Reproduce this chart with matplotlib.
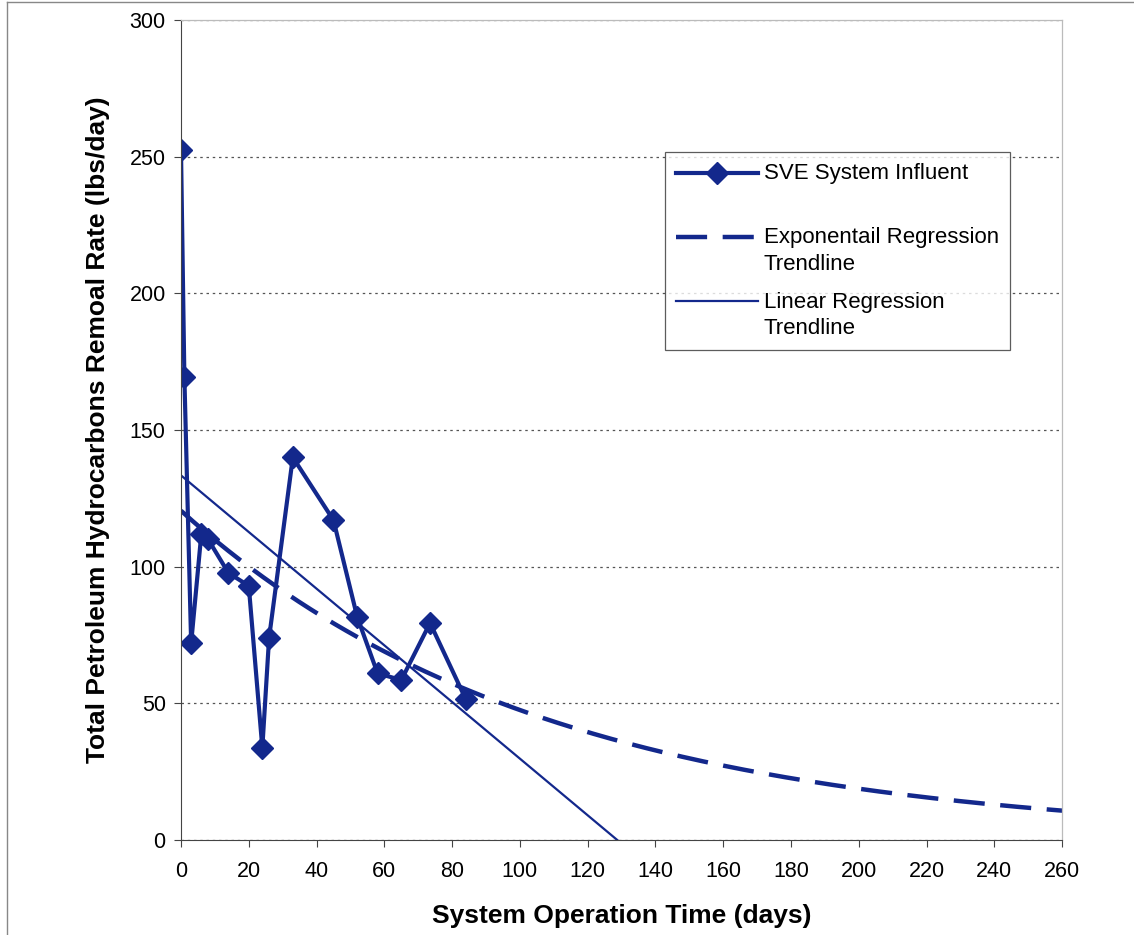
import numpy as np
import matplotlib.pyplot as plt
from matplotlib.lines import Line2D
from matplotlib.legend_handler import HandlerLine2D

plt.rcParams['font.family'] = ['Liberation Sans', 'DejaVu Sans']

days = [0, 1, 3, 6, 8, 14, 20, 24, 26, 33, 45, 52, 58, 65, 73.5, 84]
rate = [252.5, 169.4, 72, 112, 110, 97.7, 93, 33.7, 74, 140, 117, 81.6, 61, 58.5, 79.4, 51.6]

x = np.array(days)
y = np.array(rate)

# trendlines fitted like excel does
slope, icpt = np.polyfit(x, y, 1)
k, lna = np.polyfit(x, np.log(y), 1)
xt = np.linspace(0, 260, 300)

navy = '#13288c'


class TopHandler(HandlerLine2D):
    # put the legend line next to the first text line, like excel
    def create_artists(self, legend, orig_handle, xdescent, ydescent,
                       width, height, fontsize, trans):
        arts = super().create_artists(legend, orig_handle, xdescent, ydescent,
                                      width, height, fontsize, trans)
        for a in arts:
            a.set_ydata(np.asarray(a.get_ydata()) + 0.65 * fontsize)
        return arts


fig = plt.figure(figsize=(11.34, 9.35), dpi=100)
ax = fig.add_axes([0.1596, 0.1016, 0.777, 0.877])

ax.plot(xt, np.exp(lna) * np.exp(k * xt), color=navy, lw=3.2, dashes=(7, 3.5))
ax.plot(xt, icpt + slope * xt, color=navy, lw=1.6)
ax.plot(x, y, color=navy, lw=3, marker='D', markersize=11)

ax.set_xlim(0, 260)
ax.set_ylim(0, 300)
ax.set_xticks(range(0, 261, 20))
ax.set_yticks(range(0, 301, 50))
ax.yaxis.grid(True, linestyle=(0, (2, 3)), color='#555555', lw=0.9)
ax.tick_params(labelsize=15.5, direction='out', length=5, color='#444444')
ax.tick_params(axis='x', pad=10)
ax.tick_params(axis='y', pad=6)
for s in ['top', 'right']:
    ax.spines[s].set_color('#bbbbbb')
    ax.spines[s].set_linewidth(0.9)
for s in ['left', 'bottom']:
    ax.spines[s].set_color('#444444')

ax.set_xlabel('System Operation Time (days)', fontsize=19, fontweight='bold', labelpad=16)
ax.set_ylabel('Total Petroleum Hydrocarbons Remoal Rate (lbs/day)', fontsize=19,
              fontweight='bold', labelpad=14)

handles = [
    Line2D([], [], color=navy, lw=3, marker='D', markersize=11),
    Line2D([], [], color=navy, lw=3.2, dashes=(7, 3.5)),
    Line2D([], [], color=navy, lw=1.6),
]
labels = ['SVE System Influent\n ', 'Exponentail Regression\nTrendline',
          'Linear Regression\nTrendline']
leg = ax.legend(handles, labels, loc='upper left', bbox_to_anchor=(0.549, 0.839),
                fontsize=16, frameon=True, fancybox=False, edgecolor='#333333',
                handlelength=3.7, handletextpad=0.25, labelspacing=0.75,
                borderpad=0.5, borderaxespad=0,
                handler_map={Line2D: TopHandler()})
for t in leg.get_texts():
    t.set_linespacing(1.35)
leg.get_frame().set_linewidth(0.9)

# scan frame
fig.add_artist(Line2D([0.006, 0.006], [0, 0.998], color='#888888', lw=1))
fig.add_artist(Line2D([0.006, 1], [0.998, 0.998], color='#888888', lw=1))

fig.savefig('out.png', dpi=100)
